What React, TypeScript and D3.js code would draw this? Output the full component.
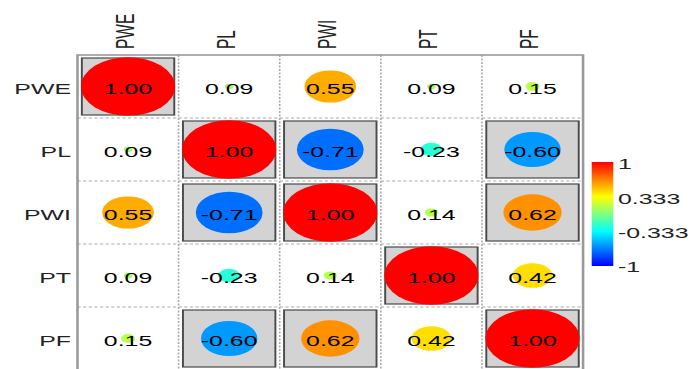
import React from "react";
import * as d3 from "d3";

// Variables and their pairwise correlation coefficients
const vars = ["PWE", "PL", "PWI", "PT", "PF"];
const rowPWE = [1.0, 0.09, 0.55, 0.09, 0.15];
const rowPL = [0.09, 1.0, -0.71, -0.23, -0.6];
const rowPWI = [0.55, -0.71, 1.0, 0.14, 0.62];
const rowPT = [0.09, -0.23, 0.14, 1.0, 0.42];
const rowPF = [0.15, -0.6, 0.62, 0.42, 1.0];
const corr = [rowPWE, rowPL, rowPWI, rowPT, rowPF];

// Cells whose correlation is flagged (shaded background box)
const flagged = [
  [true, false, false, false, false],
  [false, true, true, false, true],
  [false, true, true, false, true],
  [false, false, false, true, false],
  [false, true, true, false, true],
];

const legendTicks = [1, 0.333, -0.333, -1];
const legendStops = [-1, -1 / 3, 1 / 3, 1];
const legendColors = ["#0000FF", "#00FFFF", "#FFFF00", "#FF0000"];

const W = 692;
const H = 369;
const SX = 1.605; // horizontal stretch of the drawing
const VW = W / SX;

const CELL = 63;
const GL = 77.5 / SX;
const GT = 55;
const FONT = "'Liberation Sans', Arial, Helvetica, sans-serif";

export default function App() {
  const x = d3
    .scaleBand<string>()
    .domain(vars)
    .range([GL, GL + CELL * vars.length]);
  const y = d3
    .scaleBand<string>()
    .domain(vars)
    .range([GT, GT + CELL * vars.length]);
  const color = d3
    .scaleLinear<string>()
    .domain(legendStops)
    .range(legendColors)
    .interpolate(d3.interpolateRgb);
  const rad = d3.scaleLinear().domain([0, 1]).range([0, CELL * 0.465]);

  const gx0 = GL;
  const gx1 = GL + CELL * vars.length;
  const gy0 = GT;
  const gy1 = GT + CELL * vars.length;

  // legend bar
  const lbX = 591.7 / SX;
  const lbW = (613.3 - 591.7) / SX;
  const lbTop = 162;
  const lbBot = 266;
  const ly = d3.scaleLinear().domain([1, -1]).range([164, 267]);

  const inner = vars.slice(1);

  return (
    <svg
      width={W}
      height={H}
      viewBox={`0 0 ${VW} ${H}`}
      preserveAspectRatio="none"
      style={{ position: "absolute", left: 0, top: 0, background: "#fff" }}
    >
      <defs>
        <linearGradient id="legendGrad" x1="0" y1="1" x2="0" y2="0">
          {legendStops.map((s, i) => (
            <stop
              key={i}
              offset={`${((s + 1) / 2) * 100}%`}
              stopColor={legendColors[i]}
            />
          ))}
        </linearGradient>
      </defs>

      {/* dotted cell grid */}
      <g stroke="#aaa" strokeWidth={1} strokeDasharray="2 1.5">
        {inner.map((v) => (
          <line key={"v" + v} x1={x(v)} x2={x(v)} y1={gy0} y2={gy1} />
        ))}
        {inner.map((v) => (
          <line key={"h" + v} y1={y(v)} y2={y(v)} x1={gx0} x2={gx1} />
        ))}
      </g>

      {/* cells */}
      {corr.map((row, i) =>
        row.map((val, j) => {
          const cx = (x(vars[j]) as number) + CELL / 2;
          const cy = (y(vars[i]) as number) + CELL / 2;
          return (
            <g key={`${i}-${j}`}>
              {flagged[i][j] && (
                <rect
                  x={(x(vars[j]) as number) + 2.7}
                  y={(y(vars[i]) as number) + 3}
                  width={CELL - 5.4}
                  height={CELL - 6}
                  fill="#d3d3d3"
                  stroke="#4a4a4a"
                  strokeWidth={1.2}
                />
              )}
              <circle cx={cx} cy={cy} r={rad(Math.abs(val))} fill={color(val)} />
              <text
                x={cx}
                y={cy + 7.5}
                textAnchor="middle"
                fontFamily={FONT}
                fontSize={15.5}
                fill="#000"
              >
                {val.toFixed(2)}
              </text>
            </g>
          );
        })
      )}

      {/* outer border */}
      <rect
        x={gx0}
        y={gy0}
        width={gx1 - gx0}
        height={gy1 - gy0}
        fill="none"
        stroke="#999"
        strokeWidth={1.6}
      />

      {/* row labels */}
      {vars.map((v) => (
        <text
          key={"r" + v}
          x={71 / SX}
          y={(y(v) as number) + CELL / 2 + 8}
          textAnchor="end"
          fontFamily={FONT}
          fontSize={15.5}
          fill="#222"
        >
          {v}
        </text>
      ))}

      {/* column labels */}
      {vars.map((v) => (
        <text
          key={"c" + v}
          transform={`translate(${(x(v) as number) + CELL / 2 + 3.7},49) rotate(-90)`}
          textAnchor="start"
          fontFamily={FONT}
          fontSize={15.5}
          fill="#222"
        >
          {v}
        </text>
      ))}

      {/* colour legend */}
      <rect x={lbX} y={lbTop} width={lbW} height={lbBot - lbTop} fill="url(#legendGrad)" />
      {legendTicks.map((t) => (
        <text
          key={"l" + t}
          x={618 / SX}
          y={ly(t) + 5.5}
          fontFamily={FONT}
          fontSize={15.5}
          fill="#222"
        >
          {String(t)}
        </text>
      ))}
    </svg>
  );
}
